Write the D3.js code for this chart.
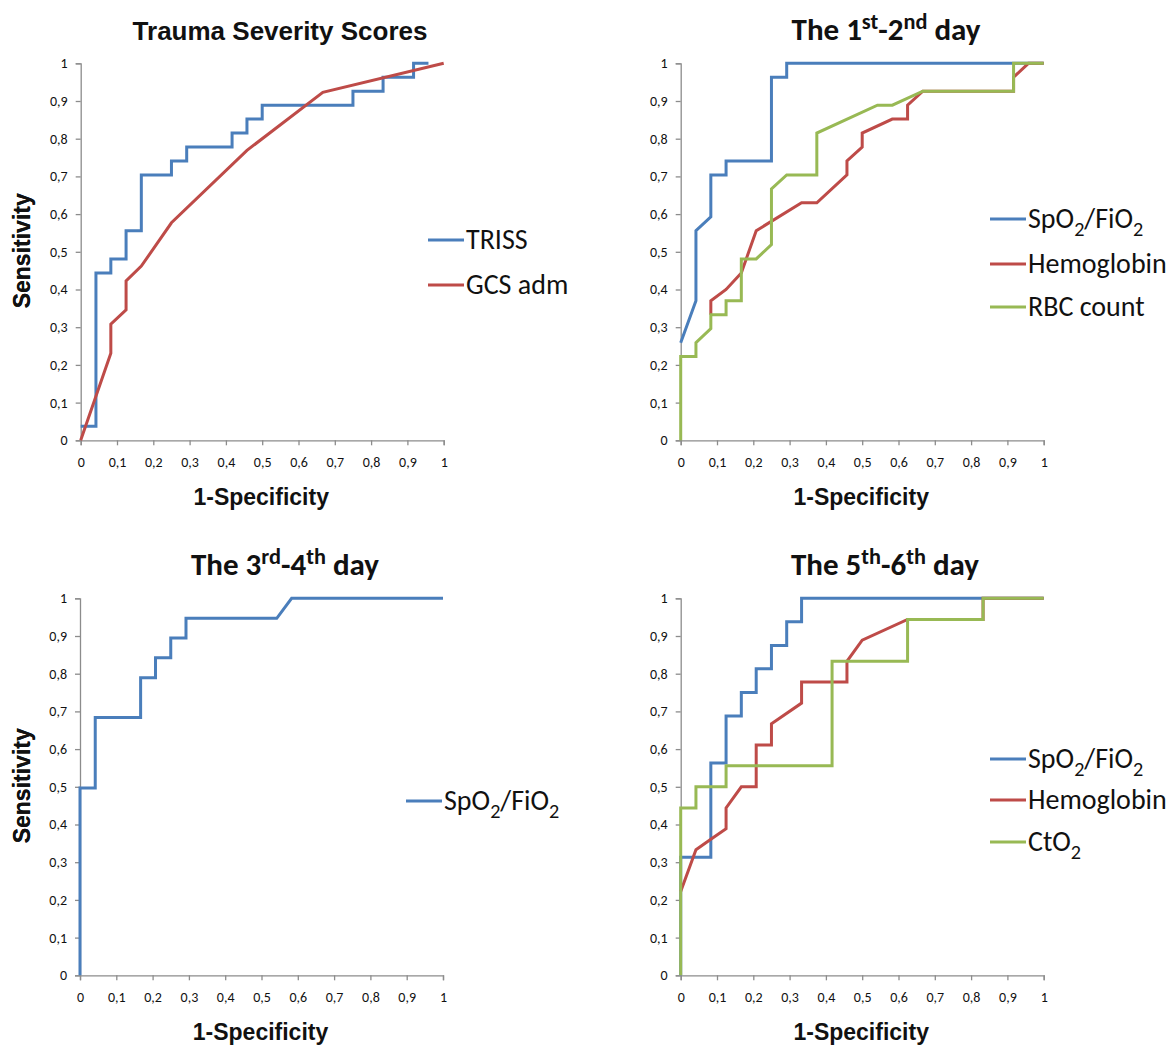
<!DOCTYPE html>
<html>
<head>
<meta charset="utf-8">
<script src="https://cdn.jsdelivr.net/npm/d3@7"></script>
<style>
  body { margin: 0; background: #fff; }
  svg text { fill: #111; }
</style>
</head>
<body>
<svg id="chart" width="1172" height="1046"></svg>
<script>
// ROC curves, [1-specificity, sensitivity]
const triss = [[0,0.037],[0.042,0.037],[0.042,0.444],[0.083,0.444],[0.083,0.481],[0.125,0.481],[0.125,0.556],[0.167,0.556],[0.167,0.704],[0.25,0.704],[0.25,0.741],[0.292,0.741],[0.292,0.778],[0.417,0.778],[0.417,0.815],[0.458,0.815],[0.458,0.852],[0.5,0.852],[0.5,0.889],[0.75,0.889],[0.75,0.926],[0.833,0.926],[0.833,0.963],[0.917,0.963],[0.917,1],[0.958,1]];
const gcsAdm = [[0,0],[0.083,0.231],[0.083,0.308],[0.125,0.346],[0.125,0.423],[0.167,0.462],[0.25,0.577],[0.458,0.769],[0.667,0.923],[1,1]];

const d12Spo2 = [[0,0.259],[0.042,0.37],[0.042,0.556],[0.083,0.593],[0.083,0.704],[0.125,0.704],[0.125,0.741],[0.25,0.741],[0.25,0.963],[0.292,0.963],[0.292,1],[1,1]];
const d12Hb = [[0.083,0.333],[0.083,0.37],[0.125,0.4],[0.167,0.444],[0.208,0.556],[0.333,0.63],[0.375,0.63],[0.458,0.704],[0.458,0.741],[0.5,0.778],[0.5,0.815],[0.583,0.852],[0.625,0.852],[0.625,0.889],[0.667,0.926],[0.917,0.926],[0.917,0.963],[0.958,1],[1,1]];
const d12Rbc = [[0,0],[0,0.222],[0.042,0.222],[0.042,0.259],[0.083,0.296],[0.083,0.333],[0.125,0.333],[0.125,0.37],[0.167,0.37],[0.167,0.481],[0.208,0.481],[0.25,0.519],[0.25,0.667],[0.292,0.704],[0.375,0.704],[0.375,0.815],[0.542,0.889],[0.583,0.889],[0.667,0.926],[0.917,0.926],[0.917,1],[1,1]];

const d34Spo2 = [[0,0],[0,0.497],[0.042,0.497],[0.042,0.684],[0.167,0.684],[0.167,0.789],[0.208,0.789],[0.208,0.842],[0.25,0.842],[0.25,0.895],[0.292,0.895],[0.292,0.947],[0.542,0.947],[0.583,1],[1,1]];

const d56Spo2 = [[0,0],[0,0.313],[0.083,0.313],[0.083,0.563],[0.125,0.563],[0.125,0.688],[0.167,0.688],[0.167,0.75],[0.208,0.75],[0.208,0.813],[0.25,0.813],[0.25,0.875],[0.292,0.875],[0.292,0.938],[0.333,0.938],[0.333,1],[1,1]];
const d56Hb = [[0,0.222],[0.042,0.333],[0.083,0.361],[0.125,0.389],[0.125,0.444],[0.167,0.5],[0.208,0.5],[0.208,0.611],[0.25,0.611],[0.25,0.667],[0.333,0.722],[0.333,0.778],[0.458,0.778],[0.458,0.833],[0.5,0.889],[0.625,0.944],[0.833,0.944],[0.833,1],[1,1]];
const d56Cto2 = [[0,0],[0,0.444],[0.042,0.444],[0.042,0.5],[0.125,0.5],[0.125,0.556],[0.417,0.556],[0.417,0.833],[0.625,0.833],[0.625,0.944],[0.833,0.944],[0.833,1],[1,1]];

const tickValues = [0,0.1,0.2,0.3,0.4,0.5,0.6,0.7,0.8,0.9,1];
const tickLabels = ["0","0,1","0,2","0,3","0,4","0,5","0,6","0,7","0,8","0,9","1"];

const BLUE = "#4a7ebb", RED = "#be4b48", GREEN = "#98b954";

// text parts: [text, "sup" | "sub" | undefined]
const panels = [
  { x0: 80.7, y0: 63.3, title: [["Trauma Severity Scores"]], titleFont: "Liberation Sans, Arial, sans-serif", titleSize: 26, tx: 280, ty: 40,
    series: [{ data: triss, color: BLUE, name: [["TRISS"]] }, { data: gcsAdm, color: RED, name: [["GCS adm"]] }],
    legend: { x: 428, y: [240, 285] } },
  { x0: 680.7, y0: 63.3, title: [["The 1"],["st","sup"],["-2"],["nd","sup"],[" day"]], titleSize: 31, tx: 886, ty: 40,
    series: [{ data: d12Spo2, color: BLUE, name: [["SpO"],["2","sub"],["/FiO"],["2","sub"]] },
             { data: d12Hb, color: RED, name: [["Hemoglobin"]] },
             { data: d12Rbc, color: GREEN, name: [["RBC count"]] }],
    legend: { x: 990, y: [219, 264, 307] } },
  { x0: 80, y0: 598.3, title: [["The 3"],["rd","sup"],["-4"],["th","sup"],[" day"]], titleSize: 31, tx: 285, ty: 575,
    series: [{ data: d34Spo2, color: BLUE, name: [["SpO"],["2","sub"],["/FiO"],["2","sub"]] }],
    legend: { x: 406, y: [801] } },
  { x0: 680.7, y0: 598.3, title: [["The 5"],["th","sup"],["-6"],["th","sup"],[" day"]], titleSize: 31, tx: 885, ty: 575,
    series: [{ data: d56Spo2, color: BLUE, name: [["SpO"],["2","sub"],["/FiO"],["2","sub"]] },
             { data: d56Hb, color: RED, name: [["Hemoglobin"]] },
             { data: d56Cto2, color: GREEN, name: [["CtO"],["2","sub"]] }],
    legend: { x: 990, y: [759, 800, 842] } }
];

const W = 363, H = 377;
const CAL = "Carlito, Calibri, Lato, sans-serif";
const svg = d3.select("#chart");

function richText(sel, parts, size) {
  let shift = 0;
  parts.forEach(([t, kind]) => {
    let target = 0;
    if (kind === "sup") target = -size * 0.36;
    if (kind === "sub") target = size * 0.28;
    sel.append("tspan")
      .attr("dy", target - shift)
      .style("font-size", kind ? (size * 0.72) + "px" : size + "px")
      .text(t);
    shift = target;
  });
}

panels.forEach(p => {
  const x = d3.scaleLinear().domain([0, 1]).range([0, W]);
  const y = d3.scaleLinear().domain([0, 1]).range([H, 0]);
  const g = svg.append("g").attr("transform", `translate(${p.x0},${p.y0})`);

  const xAxis = g.append("g").attr("transform", `translate(0,${H})`)
    .call(d3.axisBottom(x).tickValues(tickValues).tickSize(5).tickFormat((d, i) => tickLabels[i]));
  const yAxis = g.append("g")
    .call(d3.axisLeft(y).tickValues(tickValues).tickSize(5).tickFormat((d, i) => tickLabels[i]));
  [xAxis, yAxis].forEach(a => {
    a.select(".domain").attr("stroke", "#8c8c8c").attr("stroke-width", 1.3);
    a.selectAll(".tick line").attr("stroke", "#8c8c8c").attr("stroke-width", 1.3);
    a.selectAll(".tick text").attr("fill", "#111").style("font-family", CAL).style("font-size", "14px");
  });
  xAxis.selectAll(".tick text").attr("y", 17);
  yAxis.selectAll(".tick text").attr("x", -13);

  const line = d3.line().x(d => x(d[0])).y(d => y(d[1]));
  p.series.forEach(s => {
    g.append("path").datum(s.data)
      .attr("d", line)
      .attr("fill", "none")
      .attr("stroke", s.color)
      .attr("stroke-width", 3)
      .attr("stroke-linejoin", "miter");
  });

  // axis titles
  g.append("text")
    .attr("x", W / 2 - 1).attr("y", H + 65)
    .attr("text-anchor", "middle")
    .style("font-family", "Liberation Sans, Arial, sans-serif")
    .style("font-weight", "bold").style("font-size", "23px")
    .text("1-Specificity");
  g.append("text")
    .attr("transform", `translate(${-p.x0 + 30},${H / 2 - 1}) rotate(-90)`)
    .attr("text-anchor", "middle")
    .style("font-family", "Liberation Sans, Arial, sans-serif")
    .style("font-weight", "bold").style("font-size", "23px")
    .text("Sensitivity");

  // title
  const t = svg.append("text")
    .attr("x", p.tx).attr("y", p.ty)
    .attr("text-anchor", "middle")
    .style("font-family", p.titleFont || CAL)
    .style("font-weight", "bold");
  richText(t, p.title, p.titleSize);

  // legend
  p.series.forEach((s, i) => {
    const ly = p.legend.y[i];
    svg.append("line")
      .attr("x1", p.legend.x).attr("x2", p.legend.x + 36)
      .attr("y1", ly).attr("y2", ly)
      .attr("stroke", s.color).attr("stroke-width", 3);
    const lt = svg.append("text")
      .attr("x", p.legend.x + 38).attr("y", ly + 9)
      .style("font-family", CAL);
    richText(lt, s.name, 28);
  });
});
</script>
</body>
</html>
